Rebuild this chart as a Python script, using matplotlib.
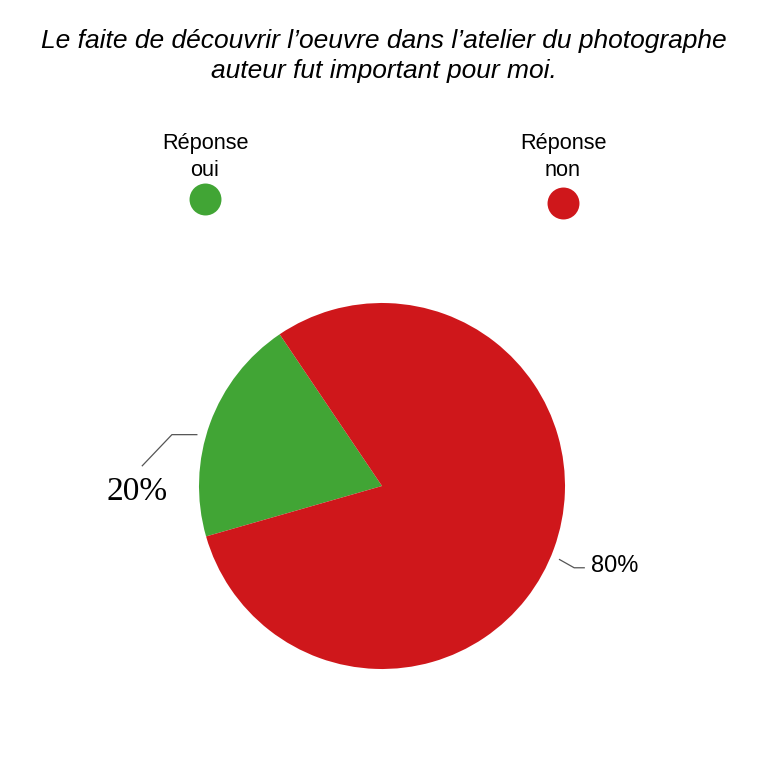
import matplotlib.pyplot as plt
import numpy as np
from matplotlib.lines import Line2D

title = "Le faite de découvrir l’oeuvre dans l’atelier du photographe\nauteur fut important pour moi."
labels = ["Réponse\noui", "Réponse\nnon"]
values = [20, 80]
colors = ["#41A535", "#CF171B"]

W = 768
fig = plt.figure(figsize=(7.68, 7.68), dpi=100)

# pie axes: centre ~ (382, 486) px, radius ~183 px
cx, cy, R = 382, 486, 183
ax = fig.add_axes([(cx - R) / W, (W - cy - R) / W, 2 * R / W, 2 * R / W])
wedges, _ = ax.pie(values, colors=colors, startangle=124, counterclock=True,
                   radius=1, wedgeprops=dict(linewidth=0))
ax.set_xlim(-1, 1)
ax.set_ylim(-1, 1)
ax.set_aspect("equal")
ax.axis("off")

# leader lines + labels
pct = [f"{v:.0f}%" for v in values]
for i, w in enumerate(wedges):
    mid = (w.theta1 + w.theta2) / 2
    if np.cos(np.deg2rad(mid)) < 0:
        a = np.deg2rad(mid + 4.5)
        x0, y0 = 1.05 * np.cos(a), 1.05 * np.sin(a)
        xs = [x0, -1.148, -1.31]
        ys = [y0, y0, y0 - 0.17]
        ax.plot(xs, ys, color="#555555", lw=0.9, clip_on=False)
        ax.text(-1.34, -0.03, pct[i], ha="center", va="center", fontsize=24,
                family="Liberation Serif", clip_on=False)
    else:
        a = np.deg2rad(mid - 2.5)
        x0, y0 = 1.05 * np.cos(a), 1.05 * np.sin(a)
        xs = [x0, x0 + 0.08, x0 + 0.135]
        ys = [y0, y0 - 0.045, y0 - 0.045]
        ax.plot(xs, ys, color="#555555", lw=0.9, clip_on=False)
        ax.text(x0 + 0.17, y0 - 0.035, pct[i], ha="left", va="center", fontsize=17,
                family="Liberation Sans", clip_on=False)

# title
fig.text(384 / W, 1 - 56 / W, title, ha="center", va="center", fontsize=19,
         style="italic", family="Liberation Sans", linespacing=1.32)

# custom legend: label above a round marker
leg_x = [205, 563]
leg_y = [199, 203]
for lab, col, lx, ly in zip(labels, colors, leg_x, leg_y):
    fig.text(lx / W, 1 - 157 / W, lab, ha="center", va="center", fontsize=15.7,
             family="Liberation Sans", linespacing=1.4)
    fig.add_artist(Line2D([lx / W], [1 - ly / W], marker="o", markersize=23,
                          color=col, markeredgewidth=0, transform=fig.transFigure))

fig.savefig("out.png", dpi=100, facecolor="white")
